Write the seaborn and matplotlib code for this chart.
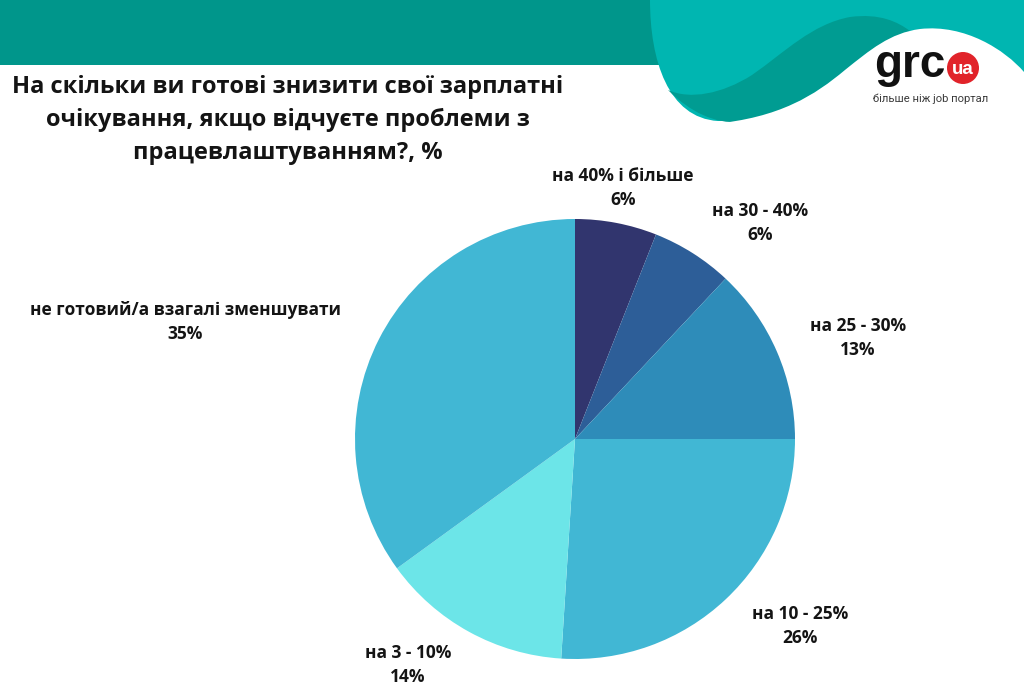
import matplotlib
matplotlib.use("Agg")
import matplotlib.pyplot as plt
import seaborn as sns
from matplotlib.path import Path
from matplotlib.patches import PathPatch, Circle

# ---- data ----
categories = ["на 40% і більше", "на 30 - 40%", "на 25 - 30%",
              "на 10 - 25%", "на 3 - 10%", "не готовий/а взагалі зменшувати"]
values = [6, 6, 13, 26, 14, 35]
title_lines = ["На скільки ви готові знизити свої зарплатні",
               "очікування, якщо відчуєте проблеми з",
               "працевлаштуванням?, %"]

# ---- style / layout ----
slice_colors = ["#31356e", "#2d5e98", "#2e8cb9", "#41b7d4", "#6ce5e8", "#41b7d4"]
label_pos = [(623, 188), (760, 223), (858, 338), (800, 626), (408, 665), (185, 322)]  # px, y down
W, H = 1024, 690

sns.set_theme(style="white")
plt.rcParams["font.family"] = ["Open Sans", "DejaVu Sans"]

fig = plt.figure(figsize=(W / 100, H / 100), dpi=100)
ax = fig.add_axes([0, 0, 1, 1])


def P(x, y):
    return (x, H - y)


def bez(pts, codes, color, z):
    verts = [P(*p) for p in pts]
    ax.add_patch(PathPatch(Path(verts, codes), facecolor=color, edgecolor="none", zorder=z))


M, L, C, Z = Path.MOVETO, Path.LINETO, Path.CURVE4, Path.CLOSEPOLY

# header band
bez([(0, 0), (1024, 0), (1024, 65), (0, 65), (0, 0)], [M, L, L, L, Z], "#00968b", 1)
# light teal blob
bez([(650, 0), (650, 60), (668, 118), (718, 121), (1024, 121), (1024, 0), (650, 0)],
    [M, C, C, C, L, L, Z], "#00b6b1", 2)
# darker wave
bez([(668, 90), (690, 100), (722, 94), (752, 75),
     (785, 52), (812, 24), (850, 17),
     (880, 13), (898, 22), (910, 31),
     (880, 40), (860, 58), (840, 74),
     (815, 95), (785, 112), (740, 122),
     (715, 124), (690, 112), (668, 90),
     (668, 90)],
    [M] + [C] * 18 + [Z], "#009c92", 3)
# white hill
bez([(712, 124), (780, 118), (815, 95), (845, 70),
     (870, 50), (890, 33), (920, 29),
     (965, 24), (1005, 50), (1024, 72),
     (1024, 140), (700, 140), (712, 124)],
    [M] + [C] * 9 + [L, L, Z], "white", 4)

# logo
ax.text(*P(874, 77), "grc", fontsize=33, fontweight="bold", family=["Liberation Sans", "DejaVu Sans"],
        color="#111111", ha="left", va="baseline", zorder=6)
ax.add_patch(Circle(P(963, 68), 16, facecolor="#e1232a", edgecolor="none", zorder=6))
ax.text(*P(963, 69), "ua", fontsize=13.5, fontweight="bold", family=["Liberation Sans", "DejaVu Sans"],
        color="white", ha="center", va="center", zorder=7)
ax.text(*P(931, 99), "більше ніж job портал", fontsize=8.1, color="#3a3a3a",
        family=["Roboto", "DejaVu Sans"], ha="center", va="center", zorder=6)

# title
for i, line in enumerate(title_lines):
    ax.text(*P(288, 93 + 33 * i), line, fontsize=17.0, fontweight="bold", color="#141414",
            ha="center", va="baseline", zorder=6)

# pie
wedges, _ = ax.pie(values, colors=slice_colors, startangle=90, counterclock=False,
                   center=P(575, 439), radius=220, wedgeprops=dict(linewidth=0))
for w in wedges:
    w.set_zorder(5)

for cat, v, (x, y) in zip(categories, values, label_pos):
    ax.text(*P(x, y - 12), cat, fontsize=12.5, fontweight="bold", color="#141414",
            ha="center", va="center", zorder=6)
    ax.text(*P(x, y + 12), f"{v}%", fontsize=12.5, fontweight="bold", color="#141414",
            ha="center", va="center", zorder=6)

ax.set_xlim(0, W)
ax.set_ylim(0, H)
ax.set_aspect("auto")
ax.axis("off")
fig.savefig("out.png", dpi=100, facecolor="white")
